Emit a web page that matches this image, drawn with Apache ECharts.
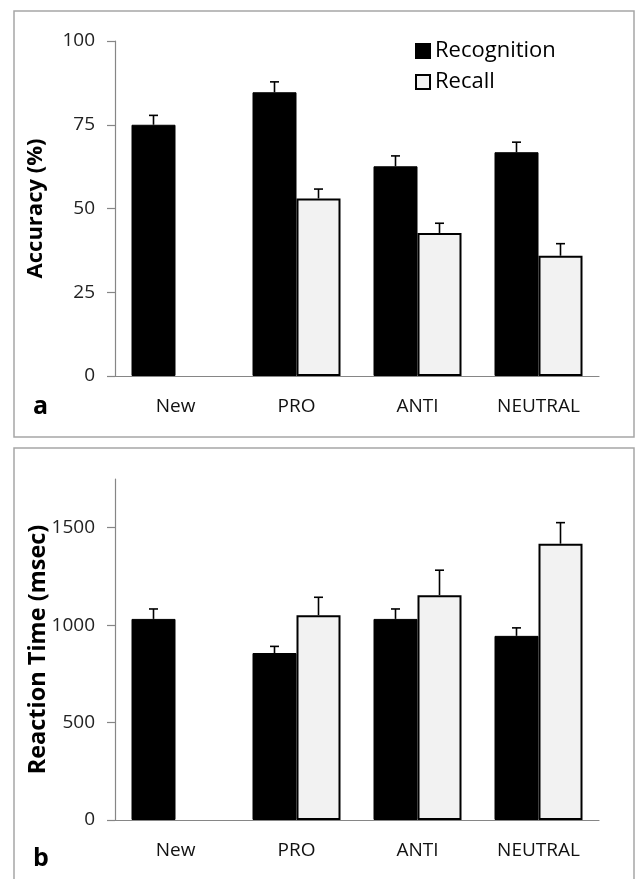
<!DOCTYPE html>
<html>
<head>
<meta charset="utf-8">
<script src="https://cdn.jsdelivr.net/npm/echarts@6/dist/echarts.min.js"></script>
<style>
html,body{margin:0;padding:0;background:#fff;}
#chart{width:640px;height:879px;}
</style>
</head>
<body>
<div id="chart"></div>
<script>
// ---- data ----
const categories = ['New', 'PRO', 'ANTI', 'NEUTRAL'];
const seriesNames = ['Recognition', 'Recall'];
// Panel a: Accuracy (%)
const accRecognition = [75, 84.7, 62.6, 66.8];
const accRecognitionErr = [77.8, 87.8, 65.7, 69.8];
const accRecall = [null, 53, 42.7, 35.9];
const accRecallErr = [null, 55.8, 45.6, 39.5];
const accTicks = [0, 25, 50, 75, 100];
// Panel b: Reaction Time (msec)
const rtRecognition = [1032, 857, 1032, 945];
const rtRecognitionErr = [1083, 891, 1083, 986];
const rtRecall = [null, 1051, 1154, 1418];
const rtRecallErr = [null, 1143, 1282, 1526];
const rtTicks = [0, 500, 1000, 1500];

const FONT = 'Open Sans';
const BAR_W = 44;
const AXIS_COLOR = '#868686';

function errData(vals, errs) {
  const out = [];
  vals.forEach((v, i) => { if (v != null) out.push([i, v, errs[i]]); });
  return out;
}
function errSeries(idx, vals, errs, offset) {
  return {
    type: 'custom', xAxisIndex: idx, yAxisIndex: idx, z: 10, silent: true,
    data: errData(vals, errs),
    renderItem: function (params, api) {
      const p0 = api.coord([api.value(0), api.value(1)]);
      const p1 = api.coord([api.value(0), api.value(2)]);
      const x = p0[0] + offset;
      const st = { stroke: '#000', lineWidth: 1.6 };
      return {
        type: 'group', children: [
          { type: 'line', shape: { x1: x, y1: p0[1], x2: x, y2: p1[1] }, style: st },
          { type: 'line', shape: { x1: x - 4.5, y1: p1[1], x2: x + 4.5, y2: p1[1] }, style: st }
        ]
      };
    }
  };
}
function barSeries(name, idx, vals, fill, bw) {
  return {
    name: name, type: 'bar', xAxisIndex: idx, yAxisIndex: idx,
    data: vals, barWidth: BAR_W, barGap: '0%',
    itemStyle: { color: fill, borderColor: '#000', borderWidth: bw },
    emphasis: { disabled: true }
  };
}
function xAxisCfg(idx) {
  return {
    type: 'category', gridIndex: idx, data: categories,
    axisLine: { lineStyle: { color: AXIS_COLOR, width: 1.2 } },
    axisTick: { length: 7, lineStyle: { color: AXIS_COLOR, width: 1.2 } },
    axisLabel: { color: '#111', fontFamily: FONT, fontSize: 19, margin: 21 }
  };
}
function yAxisCfg(idx, name, max, ticks, gap, fs) {
  return {
    type: 'value', gridIndex: idx, min: 0, max: max, name: name,
    nameLocation: 'middle', nameGap: gap, nameMoveOverlap: false,
    nameTextStyle: { fontFamily: FONT, fontWeight: 'bold', fontSize: fs, color: '#000' },
    axisLine: { show: true, lineStyle: { color: AXIS_COLOR, width: 1.2 } },
    axisTick: { show: true, length: 8, customValues: ticks, lineStyle: { color: AXIS_COLOR, width: 1.2 } },
    axisLabel: { customValues: ticks, formatter: v => String(v), color: '#222', fontFamily: FONT, fontSize: 19, margin: 20 },
    splitLine: { show: false }
  };
}

const chart = echarts.init(document.getElementById('chart'));
chart.setOption({
  animation: false,
  backgroundColor: '#fff',
  grid: [
    { left: 115, right: 41, top: 41, height: 335 },
    { left: 115, right: 41, top: 479, height: 341 }
  ],
  legend: {
    data: seriesNames, orient: 'vertical', left: 410, top: 35, icon: 'rect',
    itemWidth: 14, itemHeight: 14, itemGap: 9,
    textStyle: { fontFamily: FONT, fontSize: 22, color: '#000' }
  },
  xAxis: [xAxisCfg(0), xAxisCfg(1)],
  yAxis: [yAxisCfg(0, 'Accuracy (%)', 100, accTicks, 68, 22), yAxisCfg(1, 'Reaction Time (msec)', 1750, rtTicks, 65, 23.5)],
  graphic: [
    { type: 'rect', shape: { x: 14, y: 11, width: 620, height: 426 }, style: { fill: 'none', stroke: '#a6a6a6', lineWidth: 1.5 }, z: -1 },
    { type: 'rect', shape: { x: 14, y: 448, width: 620, height: 450 }, style: { fill: 'none', stroke: '#a6a6a6', lineWidth: 1.5 }, z: -1 },
    { type: 'text', left: 33, top: 394, style: { text: 'a', font: 'bold 25px "Open Sans"', fill: '#000' } },
    { type: 'text', left: 33, top: 846, style: { text: 'b', font: 'bold 25px "Open Sans"', fill: '#000' } }
  ],
  series: [
    barSeries('Recognition', 0, accRecognition, '#000', 1),
    barSeries('Recall', 0, accRecall, '#f2f2f2', 2),
    barSeries('Recognition', 1, rtRecognition, '#000', 1),
    barSeries('Recall', 1, rtRecall, '#f2f2f2', 2),
    errSeries(0, accRecognition, accRecognitionErr, -BAR_W / 2),
    errSeries(0, accRecall, accRecallErr, BAR_W / 2),
    errSeries(1, rtRecognition, rtRecognitionErr, -BAR_W / 2),
    errSeries(1, rtRecall, rtRecallErr, BAR_W / 2)
  ]
});
</script>
</body>
</html>
